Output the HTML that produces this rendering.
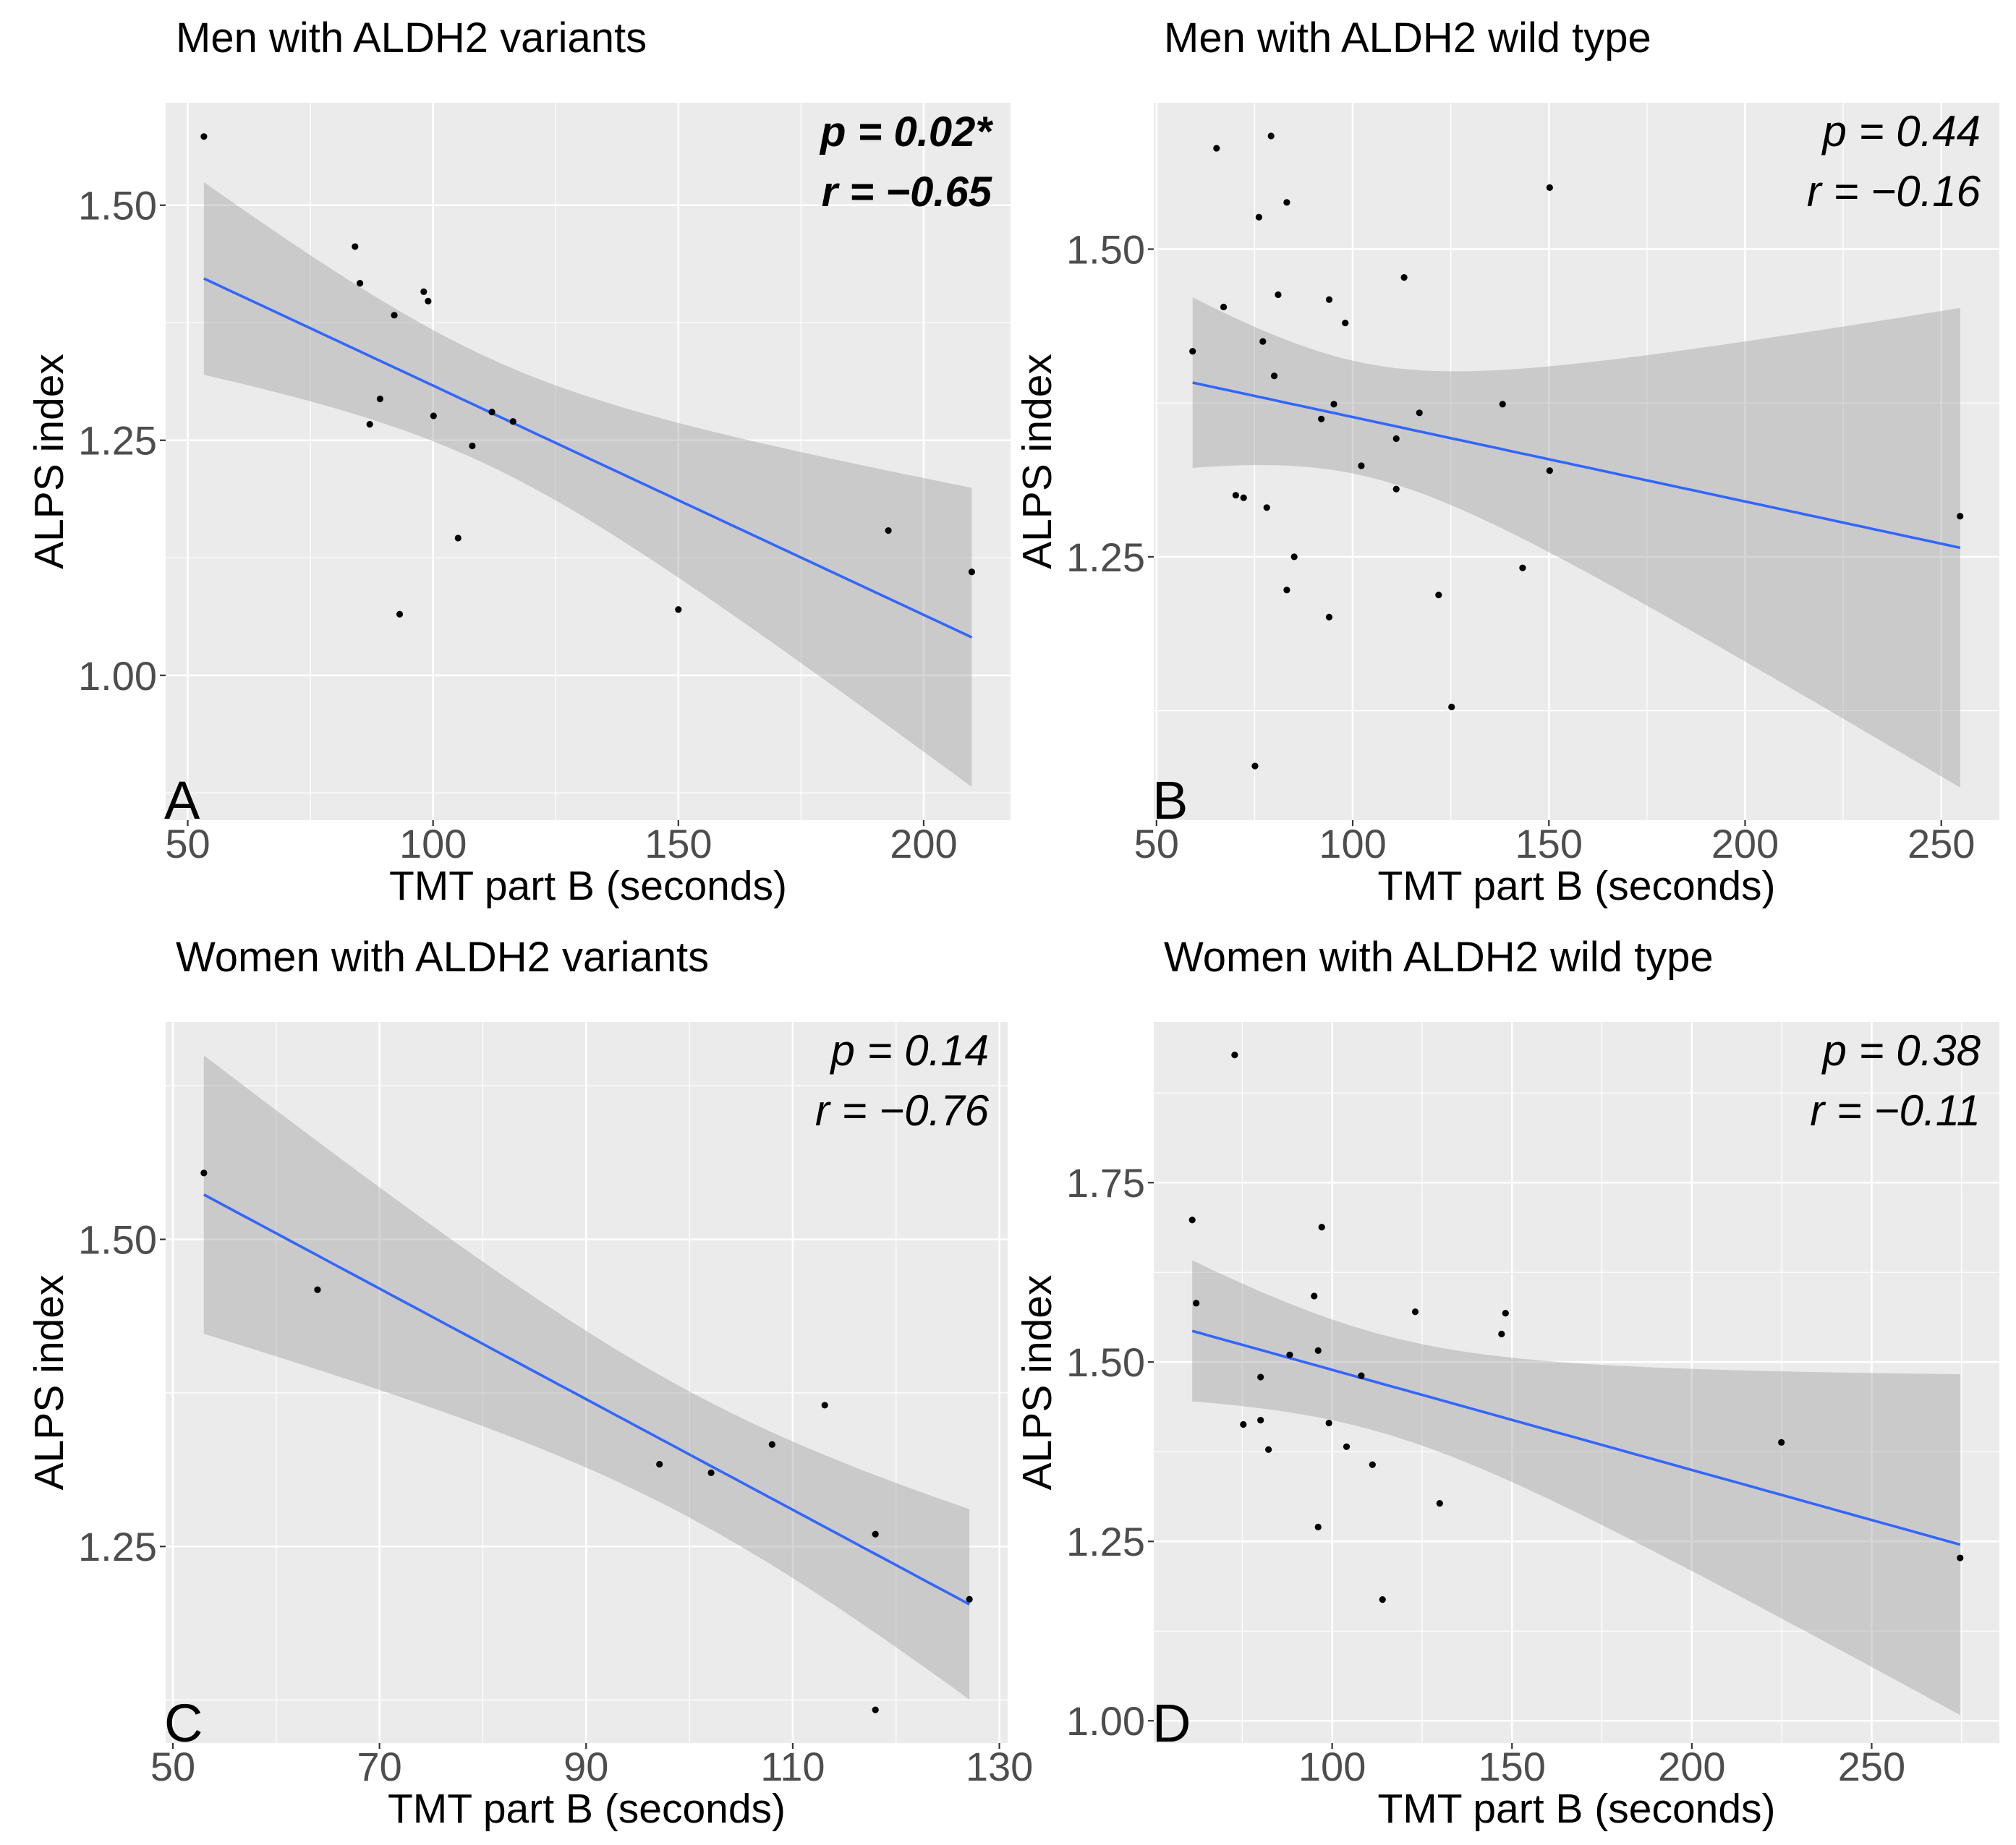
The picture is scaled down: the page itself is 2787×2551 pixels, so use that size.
<!DOCTYPE html>
<html><head><meta charset="utf-8"><style>
html,body{margin:0;padding:0;background:#fff;}
svg{display:block;font-family:"Liberation Sans",Arial,sans-serif;}
</style></head><body>
<svg id="fig" width="2787" height="2551" viewBox="0 0 2787 2551" xmlns="http://www.w3.org/2000/svg"></svg>
<script>
// Panel A: Men with ALDH2 variants
const aTmt = [53.3,84.1,85.1,98.1,99.0,92.1,89.2,87.1,100.1,112.0,116.3,108.0,105.1,93.2,150.0,192.8,209.8];
const aAlps = [1.573,1.456,1.417,1.408,1.398,1.383,1.294,1.267,1.276,1.280,1.270,1.244,1.146,1.065,1.070,1.154,1.110];
const aXTicks = [50,100,150,200];
const aYTicks = [1.00,1.25,1.50];
const aYTickLabels = ["1.00","1.25","1.50"];
// Panel B: Men with ALDH2 wild type
const bTmt = [65.3,79.2,83.2,76.1,150.2,113.1,81.0,94.0,67.1,98.1,77.1,59.2,80.0,95.2,138.2,117.0,92.0,111.1,102.2,150.2,111.1,70.2,72.2,78.1,254.8,85.1,143.3,83.2,121.9,94.0,125.2,75.1];
const bAlps = [1.582,1.592,1.538,1.526,1.550,1.477,1.463,1.459,1.453,1.440,1.425,1.417,1.397,1.374,1.374,1.367,1.362,1.346,1.324,1.320,1.305,1.300,1.298,1.290,1.283,1.250,1.241,1.223,1.219,1.201,1.128,1.080];
const bXTicks = [50,100,150,200,250];
const bYTicks = [1.25,1.50];
const bYTickLabels = ["1.25","1.50"];
// Panel C: Women with ALDH2 variants
const cTmt = [53.0,64.0,97.1,102.1,108.0,113.1,118.0,118.0,127.1];
const cAlps = [1.554,1.459,1.317,1.310,1.333,1.365,1.260,1.117,1.207];
const cXTicks = [50,70,90,110,130];
const cYTicks = [1.25,1.50];
const cYTickLabels = ["1.25","1.50"];
// Panel D: Women with ALDH2 wild type
const dTmt = [72.9,61.1,97.1,95.0,62.2,123.1,148.2,147.1,96.1,88.2,80.1,108.1,75.3,80.1,99.1,82.3,104.0,111.2,224.9,129.9,96.1,274.6,114.0];
const dAlps = [1.928,1.698,1.688,1.592,1.582,1.570,1.568,1.539,1.516,1.510,1.479,1.481,1.413,1.419,1.415,1.378,1.382,1.357,1.388,1.303,1.270,1.227,1.169];
const dXTicks = [100,150,200,250];
const dYTicks = [1.00,1.25,1.50,1.75];
const dYTickLabels = ["1.00","1.25","1.50","1.75"];

const NS = "http://www.w3.org/2000/svg";
const svg = document.getElementById('fig');
function mk(tag, attrs, parent){
  const e = document.createElementNS(NS, tag);
  for (const k in attrs) e.setAttribute(k, attrs[k]);
  (parent||svg).appendChild(e);
  return e;
}
function tq(df){
  const z = 1.959964;
  return z + (z**3+z)/(4*df) + (5*z**5+16*z**3+3*z)/(96*df*df) + (3*z**7+19*z**5+17*z**3-15*z)/(384*df**3);
}
function panel(cfg){
  const g = mk('g', {});
  
  
  const L=cfg.L, R=cfg.R, T=cfg.T, B=cfg.B;
  const sx = v => L + (v - cfg.xr[0])/(cfg.xr[1]-cfg.xr[0])*(R-L);
  const sy = v => B - (v - cfg.yr[0])/(cfg.yr[1]-cfg.yr[0])*(B-T);
  const bg = mk('rect', {x:L, y:T, width:R-L, height:B-T, fill:'#EBEBEB'}, g);
  
  
  for (let i=0;i<cfg.xt.length+1;i++){
    const step = cfg.xt[1]-cfg.xt[0];
    const m = cfg.xt[0] - step/2 + i*step;
    if (m>cfg.xr[0] && m<cfg.xr[1]) mk('line',{x1:sx(m),x2:sx(m),y1:T,y2:B,stroke:'#fff','stroke-width':1.3},g);
  }
  for (let i=0;i<cfg.yt.length+1;i++){
    const step = cfg.yt[1]-cfg.yt[0];
    const m = cfg.yt[0] - step/2 + i*step;
    if (m>cfg.yr[0] && m<cfg.yr[1]) mk('line',{x1:L,x2:R,y1:sy(m),y2:sy(m),stroke:'#fff','stroke-width':1.3},g);
  }
  cfg.xt.forEach(v=>{
    const x = sx(v);
    mk('line',{x1:x,x2:x,y1:T,y2:B,stroke:'#fff','stroke-width':2.6},g);
    mk('line',{x1:x,x2:x,y1:B,y2:B+8,stroke:'#333','stroke-width':2.2},g);
    const t = mk('text',{x:x,y:B+52,'text-anchor':'middle','font-size':56,fill:'#4D4D4D'},g);
    t.textContent = String(v);
    
    
  });
  cfg.yt.forEach((v,i)=>{
    const y = sy(v);
    mk('line',{x1:L,x2:R,y1:y,y2:y,stroke:'#fff','stroke-width':2.6},g);
    mk('line',{x1:L-8,x2:L,y1:y,y2:y,stroke:'#333','stroke-width':2.2},g);
    const t = mk('text',{x:L-12,y:y+20,'text-anchor':'end','font-size':56,fill:'#4D4D4D'},g);
    t.textContent = cfg.ytl[i];
    
    
  });
  const xs=cfg.xs, ys=cfg.ys, n=xs.length;
  const mx = xs.reduce((a,b)=>a+b,0)/n, my = ys.reduce((a,b)=>a+b,0)/n;
  let sxx=0, sxy=0;
  for (let i=0;i<n;i++){ sxx+=(xs[i]-mx)**2; sxy+=(xs[i]-mx)*(ys[i]-my); }
  const b1 = sxy/sxx, b0 = my - b1*mx;
  let sse=0; for (let i=0;i<n;i++) sse += (ys[i]-b0-b1*xs[i])**2;
  const s = Math.sqrt(sse/(n-2)), tc = tq(n-2);
  const x0 = Math.min(...xs), x1 = Math.max(...xs);
  const up=[], lo=[], ln=[];
  for (let k=0;k<=80;k++){
    const x = x0 + (x1-x0)*k/80;
    const f = b0+b1*x;
    const se = s*Math.sqrt(1/n + (x-mx)**2/sxx);
    up.push(sx(x).toFixed(1)+','+sy(f+tc*se).toFixed(1));
    lo.push(sx(x).toFixed(1)+','+sy(f-tc*se).toFixed(1));
    ln.push(sx(x).toFixed(1)+','+sy(f).toFixed(1));
  }
  const band = mk('polygon',{points: up.concat(lo.reverse()).join(' '), fill:'#999999','fill-opacity':0.4},g);
  
  
  const line = mk('polyline',{points: ln.join(' '), fill:'none', stroke:'#3366FF','stroke-width':3.6},g);
  
  
  for (let i=0;i<n;i++){
    const c = mk('circle',{cx:sx(xs[i]),cy:sy(ys[i]),r:4.6,fill:'#000'},g);
    
    
  }
  const title = mk('text',{x:L+14,y:T-70,'font-size':58,fill:'#000'},g);
  title.textContent = cfg.title;
  
  
  const xl = mk('text',{x:(L+R)/2,y:B+110,'text-anchor':'middle','font-size':57,fill:'#000'},g);
  xl.textContent = 'TMT part B (seconds)';
  
  
  const yl = mk('text',{x:0,y:0,'text-anchor':'middle','font-size':57,fill:'#000',transform:`translate(${L-142},${(T+B)/2}) rotate(-90)`},g);
  yl.textContent = 'ALPS index';
  
  
  const fw = cfg.bold ? 'bold' : 'normal';
  const p = mk('text',{x:R-26,y:T+60,'text-anchor':'end','font-size':cfg.bold?58:60,'font-style':'italic','font-weight':fw,fill:'#000'},g);
  p.textContent = cfg.p;
  
  
  const r = mk('text',{x:R-26,y:T+143,'text-anchor':'end','font-size':cfg.bold?58:60,'font-style':'italic','font-weight':fw,fill:'#000'},g);
  r.textContent = cfg.r;
  
  
  const lt = mk('text',{x:L-2,y:B-2,'font-size':74,fill:'#000'},g);
  lt.textContent = cfg.letter;
  
  
}
panel({name:'panel-a',L:229,R:1397,T:142,B:1134,xr:[45.5,217.7],yr:[0.846,1.609],xs:aTmt,ys:aAlps,xt:aXTicks,yt:aYTicks,ytl:aYTickLabels,title:'Men with ALDH2 variants',p:'p = 0.02*',r:'r = \u22120.65',bold:true,letter:'A'});
panel({name:'panel-b',L:1595,R:2764,T:142,B:1134,xr:[49.3,264.8],yr:[1.036,1.619],xs:bTmt,ys:bAlps,xt:bXTicks,yt:bYTicks,ytl:bYTickLabels,title:'Men with ALDH2 wild type',p:'p = 0.44',r:'r = \u22120.16',bold:false,letter:'B'});
panel({name:'panel-c',L:229,R:1393,T:1413,B:2410,xr:[49.3,130.8],yr:[1.090,1.677],xs:cTmt,ys:cAlps,xt:cXTicks,yt:cYTicks,ytl:cYTickLabels,title:'Women with ALDH2 variants',p:'p = 0.14',r:'r = \u22120.76',bold:false,letter:'C'});
panel({name:'panel-d',L:1595,R:2764,T:1413,B:2410,xr:[50.4,285.5],yr:[0.969,1.974],xs:dTmt,ys:dAlps,xt:dXTicks,yt:dYTicks,ytl:dYTickLabels,title:'Women with ALDH2 wild type',p:'p = 0.38',r:'r = \u22120.11',bold:false,letter:'D'});
</script>
</body></html>
